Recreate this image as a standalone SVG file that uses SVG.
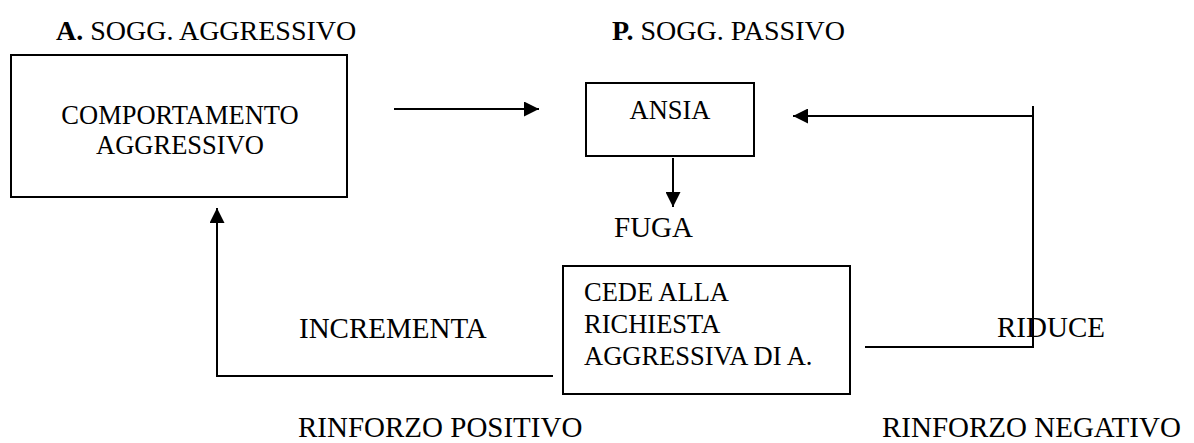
<svg xmlns="http://www.w3.org/2000/svg" width="1194" height="443" viewBox="0 0 1194 443">
<style>
text{font-family:"Liberation Serif","Times New Roman",serif;font-size:26.5px;fill:#000}
.lbl{font-size:29px}
.hd{font-size:28px}
.box{fill:#fff;stroke:#000;stroke-width:2}
.ln{fill:none;stroke:#000;stroke-width:2}
.c{text-anchor:middle}
</style>
<defs>
<marker id="ah" viewBox="0 0 10 10" refX="10" refY="5" markerWidth="15" markerHeight="15" markerUnits="userSpaceOnUse" orient="auto">
<path d="M0,0 L10,5 L0,10 Z" fill="#000"/>
</marker>
</defs>
<g id="headers">
<text class="hd" x="56" y="40"><tspan font-weight="bold">A.</tspan> SOGG. AGGRESSIVO</text>
<text class="hd" x="612" y="40"><tspan font-weight="bold">P.</tspan> SOGG. PASSIVO</text>
</g>
<g id="node-comportamento">
<rect class="box" x="11" y="55" width="336" height="142"/>
<text class="c" x="180" y="124">COMPORTAMENTO</text>
<text class="c" x="180" y="154">AGGRESSIVO</text>
</g>
<g id="node-ansia">
<rect class="box" x="586" y="83" width="168" height="73"/>
<text class="c" x="670" y="119">ANSIA</text>
</g>
<g id="node-fuga">
<text class="lbl" x="614" y="237">FUGA</text>
</g>
<g id="node-cede">
<rect class="box" x="563" y="266" width="287" height="128"/>
<text x="584" y="301">CEDE ALLA</text>
<text x="584" y="333">RICHIESTA</text>
<text x="584" y="365">AGGRESSIVA DI A.</text>
</g>
<g id="labels">
<text class="lbl" x="299" y="338">INCREMENTA</text>
<text class="lbl" x="997" y="337">RIDUCE</text>
<text class="lbl" x="298" y="437">RINFORZO POSITIVO</text>
<text class="lbl" x="882" y="437">RINFORZO NEGATIVO</text>
</g>
<g id="connectors">
<line class="ln" x1="394" y1="109" x2="539" y2="109" marker-end="url(#ah)"/>
<line class="ln" x1="673" y1="158" x2="673" y2="207" marker-end="url(#ah)"/>
<polyline class="ln" points="553,376 217,376 217,208" marker-end="url(#ah)"/>
<polyline class="ln" points="865,347 1033,347 1033,106"/>
<line class="ln" x1="1033" y1="116" x2="793" y2="116" marker-end="url(#ah)"/>
</g>
</svg>
